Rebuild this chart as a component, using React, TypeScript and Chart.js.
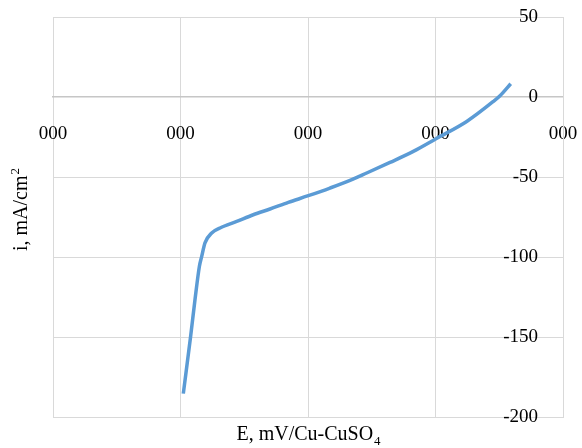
import React, { useEffect, useRef } from "react";
import { Chart, registerables } from "chart.js";

Chart.register(...registerables);

// Potential E, mV (x) and current density i, mA/cm² (y)
const potentialMV = [
  -744.5, -730, -721.6, -713, -708.4, -702, -688.8, -672.5, -639.8, -607.3,
  -574.5, -538.6, -499.4, -456.9, -417.6, -384.9, -339.2, -293.5, -249,
  -188.8, -136.7, -123.5, -102.5,
];
const currentDensity = [
  -185.4, -149.2, -126.7, -105.9, -99.6, -91.2, -85, -81.9, -77.8, -73.6,
  -70, -65.9, -61.7, -56.9, -52.1, -47.5, -40.9, -34, -26.1, -15.3, -2.8,
  0.8, 8.3,
];

const xMin = -1000;
const xMax = 0;
const xStep = 250;
const xTickLabel = "000";
const yMin = -200;
const yMax = 50;
const yStep = 50;

const xTitleMain = "E, mV/Cu-CuSO";
const xTitleSub = "4";
const yTitleMain = "i, mA/cm";
const yTitleSup = "2";

const FONT = "'Liberation Serif', 'Times New Roman', serif";

const titlesPlugin = {
  id: "titles",
  afterDraw(chart: any) {
    const ctx = chart.ctx as CanvasRenderingContext2D;
    const area = chart.chartArea;
    ctx.save();
    ctx.fillStyle = "#000";
    ctx.textBaseline = "alphabetic";
    ctx.textAlign = "left";
    const big = `20px ${FONT}`;
    const small = `13px ${FONT}`;
    // X title with subscript
    ctx.font = big;
    const wMain = ctx.measureText(xTitleMain).width;
    ctx.font = small;
    const wSub = ctx.measureText(xTitleSub).width;
    const cx = (area.left + area.right) / 2;
    const sx = cx - (wMain + wSub) / 2;
    ctx.font = big;
    ctx.fillText(xTitleMain, sx, 440);
    ctx.font = small;
    ctx.fillText(xTitleSub, sx + wMain + 1, 445);
    // Y title with superscript, rotated
    ctx.font = big;
    const wyMain = ctx.measureText(yTitleMain).width;
    ctx.font = small;
    const wySup = ctx.measureText(yTitleSup).width;
    ctx.translate(27, 210);
    ctx.rotate(-Math.PI / 2);
    const sy = -(wyMain + wySup) / 2;
    ctx.font = big;
    ctx.fillText(yTitleMain, sy, 0);
    ctx.font = small;
    ctx.fillText(yTitleSup, sy + wyMain + 1, -8);
    ctx.restore();
  },
};

export default function App() {
  const canvasRef = useRef<HTMLCanvasElement | null>(null);

  useEffect(() => {
    if (!canvasRef.current) return;
    const points = potentialMV.map((x, i) => ({ x, y: currentDensity[i] }));
    const chart = new Chart(canvasRef.current, {
      type: "scatter",
      data: {
        datasets: [
          {
            data: points,
            showLine: true,
            borderColor: "#5B9BD5",
            backgroundColor: "#5B9BD5",
            borderWidth: 3.5,
            pointRadius: 0,
            cubicInterpolationMode: "monotone",
          } as any,
        ],
      },
      options: {
        responsive: false,
        animation: false,
        layout: { padding: { left: 53, right: 19, top: 17, bottom: 31 } },
        plugins: {
          legend: { display: false },
          tooltip: { enabled: false },
        },
        scales: {
          x: {
            type: "linear",
            position: { y: 0 } as any,
            min: xMin,
            max: xMax,
            grid: {
              color: "#D9D9D9",
              lineWidth: 1,
              drawTicks: true,
              tickLength: 26,
              tickColor: "rgba(0,0,0,0)",
            },
            border: { display: true, color: "#C6C6C6", width: 1.5 },
            ticks: {
              stepSize: xStep,
              autoSkip: false,
              maxRotation: 0,
              padding: 0,
              color: "#000",
              font: { family: FONT, size: 19 },
              callback: () => xTickLabel,
            },
          },
          y: {
            type: "linear",
            position: "right",
            min: yMin,
            max: yMax,
            grid: { color: "#D9D9D9", lineWidth: 1, drawTicks: false },
            border: { display: true, color: "#D9D9D9", width: 1 },
            afterFit: (scale: any) => {
              scale.width = 0;
            },
            ticks: {
              stepSize: yStep,
              mirror: true,
              padding: -25,
              color: "#000",
              font: { family: FONT, size: 19 },
              callback: (v: any) => String(v),
            },
          },
        },
      },
      plugins: [titlesPlugin],
    });
    return () => chart.destroy();
  }, []);

  return (
    <div style={{ position: "fixed", left: 0, top: 0, width: 582, height: 448, background: "#fff" }}>
      <canvas ref={canvasRef} width={582} height={448} />
    </div>
  );
}
